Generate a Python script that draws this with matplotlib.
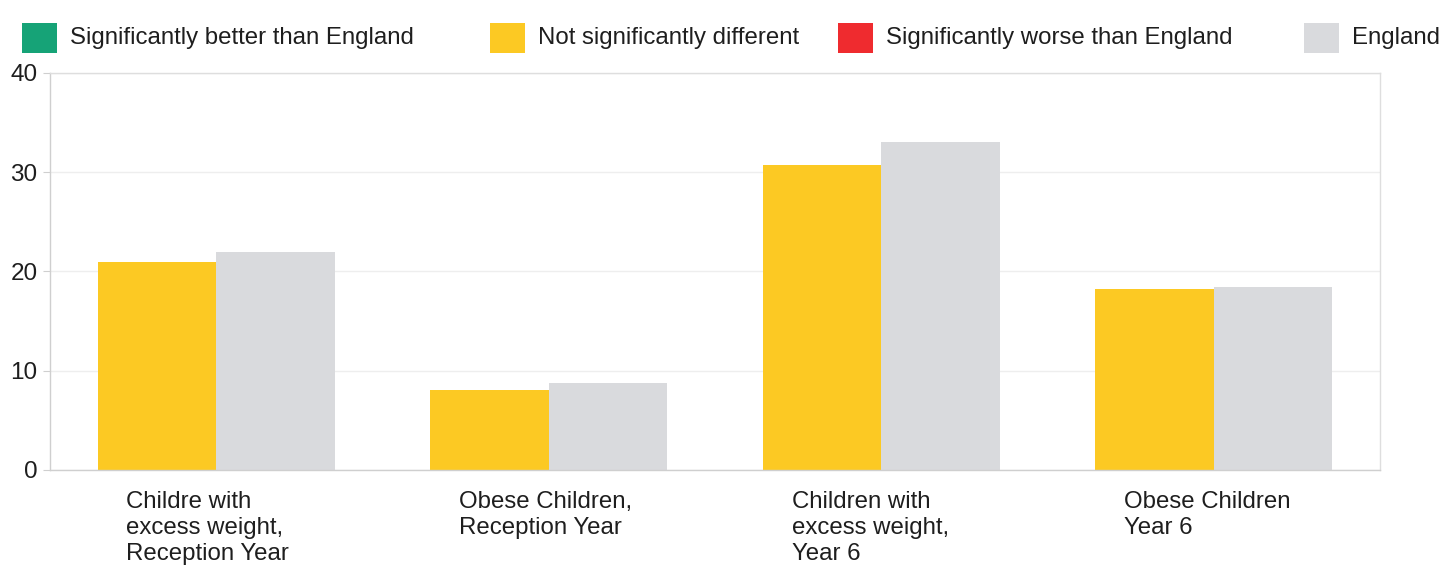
import numpy as np
import matplotlib.pyplot as plt
from matplotlib.patches import Rectangle

plt.rcParams['font.family'] = ['Liberation Sans', 'DejaVu Sans']

categories = ['Childre with\nexcess weight,\nReception Year',
              'Obese Children,\nReception Year',
              'Children with\nexcess weight,\nYear 6',
              'Obese Children\nYear 6']
local = [20.9, 8.1, 30.7, 18.2]
england = [22.0, 8.8, 33.0, 18.4]
legend_labels = ['Significantly better than England', 'Not significantly different',
                 'Significantly worse than England', 'England']

yellow = '#fcc923'
grey = '#d9dadd'
legend_colors = ['#16a377', yellow, '#ef2b2f', grey]
txt = '#1e1e1e'

fig = plt.figure(figsize=(14.41, 5.69), dpi=100)
ax = fig.add_axes([0.0347, 0.174, 0.923, 0.698])

x = np.arange(len(categories))
w = 0.356
ax.bar(x - w/2, local, w, color=yellow, zorder=2)
ax.bar(x + w/2, england, w, color=grey, zorder=2)

ax.set_xlim(-0.5, 3.5)
ax.set_ylim(0, 40)
ax.set_yticks([0, 10, 20, 30, 40])
ax.tick_params(axis='y', labelsize=17.5, colors='#cfcfcf', labelcolor=txt, length=5, pad=4)
ax.set_xticks(x - 0.27, categories, ha='left', va='top', fontsize=17.3, color=txt, linespacing=1.24)
ax.tick_params(axis='x', length=0, pad=15)
ax.grid(axis='y', color='#eeeeee', linewidth=1, zorder=0)
for s in ax.spines.values():
    s.set_color('#dedede')
    s.set_linewidth(1)
ax.spines['left'].set_color('#cfcfcf')
ax.spines['bottom'].set_color('#cfcfcf')

# legend drawn across the top, items placed individually
box_x = [22, 490, 838, 1304]
for bx, col, lab in zip(box_x, legend_colors, legend_labels):
    fig.patches.append(Rectangle((bx / 1441, 1 - 53 / 569), 35 / 1441, 30 / 569,
                                 transform=fig.transFigure, facecolor=col, edgecolor='none'))
    fig.text((bx + 48) / 1441, 1 - 38 / 569, lab, fontsize=17.3, color=txt, va='center', ha='left')

fig.savefig('out.png', dpi=100)
